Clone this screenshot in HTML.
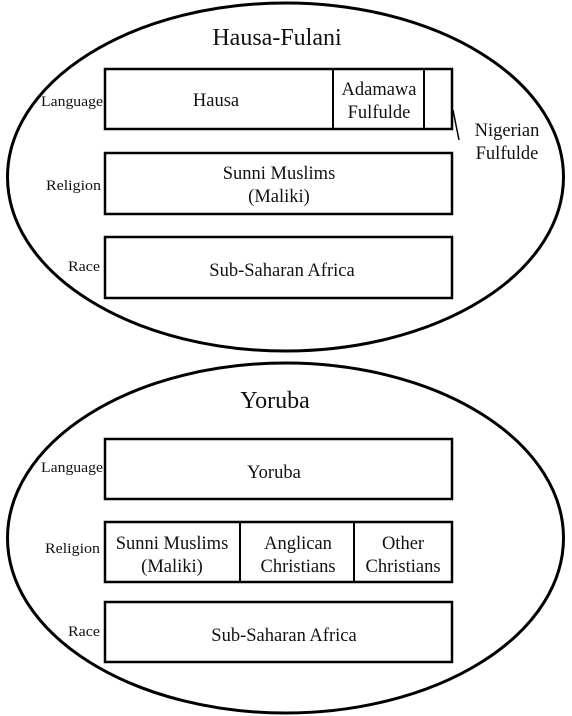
<!DOCTYPE html>
<html><head><meta charset="utf-8"><style>
html,body{margin:0;padding:0;background:#fff;width:572px;height:716px;overflow:hidden}
svg{display:block}
text{font-family:"Liberation Serif",serif;fill:#111}
.b{font-size:18.5px}
.l{font-size:15px}
.t{font-size:24px}
rect,line,ellipse{fill:none;stroke:#000}
</style></head><body>
<svg width="572" height="716" viewBox="0 0 572 716">
<ellipse cx="285.5" cy="177" rx="278" ry="174" stroke-width="3"/>
<text class="t" x="277" y="45" text-anchor="middle">Hausa-Fulani</text>
<rect x="105" y="69" width="347" height="60" stroke-width="2.5"/>
<line x1="333" y1="69" x2="333" y2="129" stroke-width="2"/>
<line x1="424" y1="69" x2="424" y2="129" stroke-width="2"/>
<line x1="453" y1="110" x2="459" y2="140" stroke-width="1.5"/>
<text class="b" x="216" y="106" text-anchor="middle">Hausa</text>
<text class="b" x="379" y="95" text-anchor="middle">Adamawa</text>
<text class="b" x="379" y="118" text-anchor="middle">Fulfulde</text>
<text class="b" x="507" y="136" text-anchor="middle">Nigerian</text>
<text class="b" x="507" y="159" text-anchor="middle">Fulfulde</text>
<text class="l" x="103" y="106" text-anchor="end" textLength="62" lengthAdjust="spacingAndGlyphs">Language</text>
<rect x="105" y="153" width="347" height="61" stroke-width="2.5"/>
<text class="b" x="279" y="179" text-anchor="middle">Sunni Muslims</text>
<text class="b" x="279" y="202" text-anchor="middle">(Maliki)</text>
<text class="l" x="101" y="190" text-anchor="end" textLength="55" lengthAdjust="spacingAndGlyphs">Religion</text>
<rect x="105" y="237" width="347" height="61" stroke-width="2.5"/>
<text class="b" x="282" y="276" text-anchor="middle">Sub-Saharan Africa</text>
<text class="l" x="100" y="271" text-anchor="end" textLength="32" lengthAdjust="spacingAndGlyphs">Race</text>

<ellipse cx="285.5" cy="538" rx="278" ry="175" stroke-width="3"/>
<text class="t" x="275" y="408" text-anchor="middle">Yoruba</text>
<rect x="105" y="439" width="347" height="60" stroke-width="2.5"/>
<text class="b" x="274" y="478" text-anchor="middle">Yoruba</text>
<text class="l" x="103" y="472" text-anchor="end" textLength="62" lengthAdjust="spacingAndGlyphs">Language</text>
<rect x="105" y="522" width="347" height="60" stroke-width="2.5"/>
<line x1="240" y1="522" x2="240" y2="582" stroke-width="2"/>
<line x1="354" y1="522" x2="354" y2="582" stroke-width="2"/>
<text class="b" x="172" y="549" text-anchor="middle">Sunni Muslims</text>
<text class="b" x="172" y="572" text-anchor="middle">(Maliki)</text>
<text class="b" x="298" y="549" text-anchor="middle">Anglican</text>
<text class="b" x="298" y="572" text-anchor="middle">Christians</text>
<text class="b" x="403" y="549" text-anchor="middle">Other</text>
<text class="b" x="403" y="572" text-anchor="middle">Christians</text>
<text class="l" x="100" y="553" text-anchor="end" textLength="55" lengthAdjust="spacingAndGlyphs">Religion</text>
<rect x="105" y="602" width="347" height="60" stroke-width="2.5"/>
<text class="b" x="284" y="641" text-anchor="middle">Sub-Saharan Africa</text>
<text class="l" x="100" y="636" text-anchor="end" textLength="32" lengthAdjust="spacingAndGlyphs">Race</text>
</svg>
</body></html>
